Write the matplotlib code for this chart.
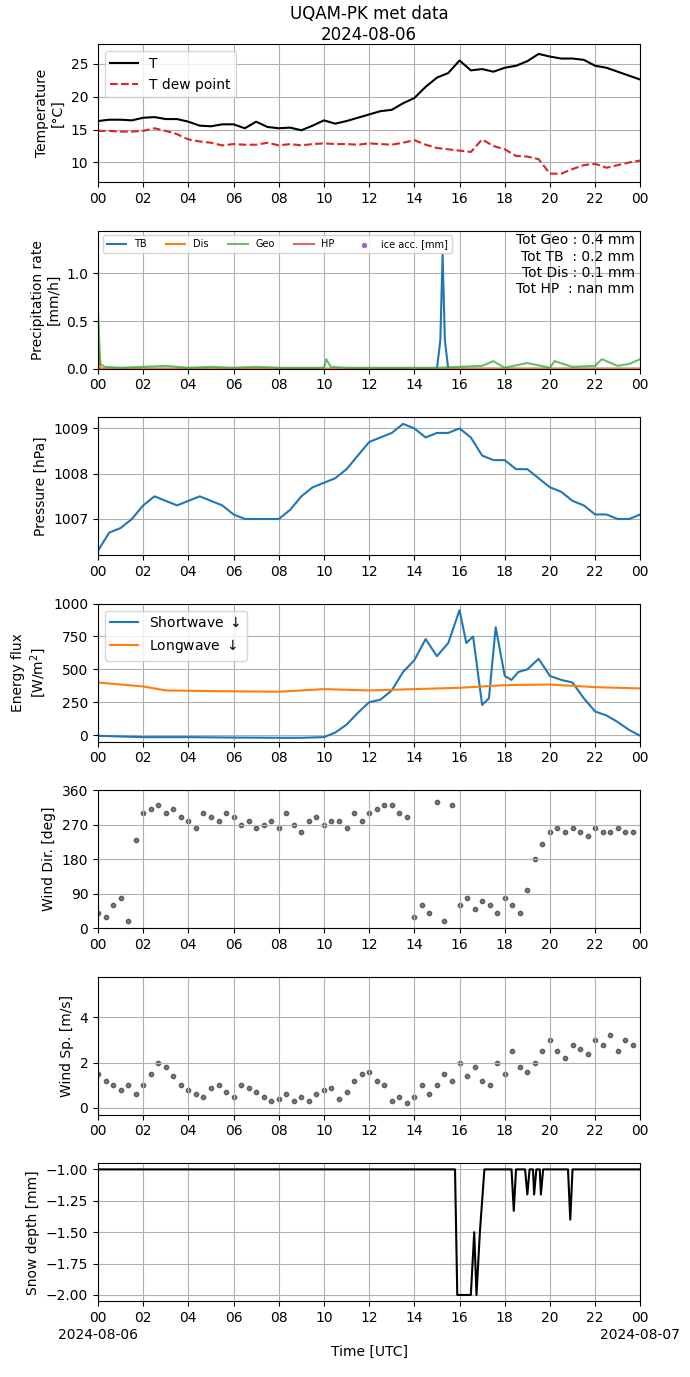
import numpy as np
import matplotlib
matplotlib.use("Agg")
import matplotlib.pyplot as plt

# half-hourly times (hours UTC)
t30 = np.arange(0, 24.01, 0.5)
temp = [16.3,16.5,16.5,16.4,16.8,16.9,16.6,16.6,16.2,15.6,15.5,15.8,15.8,15.2,16.2,15.4,15.2,15.3,14.9,15.6,
        16.4,15.9,16.3,16.8,17.3,17.8,18.0,19.0,19.8,21.5,22.9,23.6,25.5,24.0,24.2,23.8,24.4,24.7,25.4,26.5,
        26.1,25.8,25.8,25.6,24.7,24.4,23.8,23.2,22.6]
dew = [14.8,14.8,14.7,14.7,14.8,15.2,14.8,14.3,13.5,13.2,13.0,12.6,12.8,12.7,12.7,13.0,12.6,12.8,12.6,12.8,
       12.9,12.8,12.8,12.7,12.9,12.8,12.7,13.0,13.4,12.7,12.2,12.0,11.8,11.6,13.5,12.5,12.0,11.0,10.9,10.5,
       8.3,8.3,9.0,9.6,9.8,9.2,9.6,10.0,10.3]
pres = [1006.3,1006.7,1006.8,1007.0,1007.3,1007.5,1007.4,1007.3,1007.4,1007.5,1007.4,1007.3,1007.1,1007.0,1007.0,
        1007.0,1007.0,1007.2,1007.5,1007.7,1007.8,1007.9,1008.1,1008.4,1008.7,1008.8,1008.9,1009.1,1009.0,1008.8,
        1008.9,1008.9,1009.0,1008.8,1008.4,1008.3,1008.3,1008.1,1008.1,1007.9,1007.7,1007.6,1007.4,1007.3,1007.1,
        1007.1,1007.0,1007.0,1007.1]

# precipitation
tb_t = [0, 15.0, 15.15, 15.25, 15.35, 15.5, 24]
tb_v = [0, 0, 0.3, 1.2, 0.3, 0, 0]
geo_t = [0, 0.1, 0.3, 1, 2, 3, 4, 5, 6, 7, 8, 9, 10, 10.1, 10.3, 11, 12, 13, 14, 15, 16, 17, 17.5, 18, 19, 20, 20.2, 21, 22, 22.3, 23, 23.5, 24]
geo_v = [0.6, 0.05, 0.02, 0.01, 0.02, 0.03, 0.01, 0.02, 0.01, 0.02, 0.01, 0.01, 0.01, 0.1, 0.02, 0.01, 0.01, 0.01, 0.01, 0.01, 0.02, 0.03, 0.08, 0.01, 0.06, 0.01, 0.08, 0.02, 0.03, 0.1, 0.03, 0.05, 0.1]
dis_t = [0, 0.1, 24]
dis_v = [0.3, 0.0, 0.0]

# radiation
sw_t = [0, 1, 2, 4, 6, 8, 9, 10, 10.5, 11, 11.5, 12, 12.5, 13, 13.5, 14, 14.5, 15, 15.5, 16, 16.3, 16.6, 17, 17.3, 17.6, 18, 18.3, 18.6, 19, 19.5, 20, 20.5, 21, 21.5, 22, 22.5, 23, 23.5, 24]
sw_v = [-5, -10, -15, -15, -18, -20, -20, -15, 20, 80, 170, 250, 270, 340, 480, 570, 730, 600, 700, 950, 700, 750, 230, 280, 820, 450, 420, 480, 500, 580, 450, 420, 400, 280, 180, 150, 100, 40, -5]
lw_t = [0, 1, 2, 3, 5, 8, 10, 12, 14, 16, 18, 20, 22, 24]
lw_v = [400, 385, 370, 340, 335, 330, 350, 340, 350, 360, 380, 385, 365, 355]

# wind, every 20 min
t20 = np.arange(0, 24, 1 / 3)
wdir = [40, 30, 60, 80, 20, 230, 300, 310, 320, 300, 310, 290, 280, 260, 300, 290, 280, 300,
        290, 270, 280, 260, 270, 280, 260, 300, 270, 250, 280, 290, 270, 280, 280, 260, 300, 280,
        300, 310, 320, 320, 300, 290, 30, 60, 40, 330, 20, 320, 60, 80, 50, 70, 60, 40,
        80, 60, 40, 100, 180, 220, 250, 260, 250, 260, 250, 240, 260, 250, 250, 260, 250, 250]
wspd = [1.5, 1.2, 1.0, 0.8, 1.0, 0.6, 1.0, 1.5, 2.0, 1.8, 1.4, 1.0, 0.8, 0.6, 0.5, 0.9, 1.0, 0.7,
        0.5, 1.0, 0.9, 0.7, 0.5, 0.3, 0.4, 0.6, 0.3, 0.5, 0.3, 0.6, 0.8, 0.9, 0.4, 0.7, 1.2, 1.5,
        1.6, 1.2, 1.0, 0.3, 0.5, 0.2, 0.5, 1.0, 0.6, 1.0, 1.5, 1.2, 2.0, 1.4, 1.8, 1.2, 1.0, 2.0,
        1.5, 2.5, 1.8, 1.6, 2.0, 2.5, 3.0, 2.5, 2.2, 2.8, 2.6, 2.4, 3.0, 2.8, 3.2, 2.5, 3.0, 2.8]

# snow depth
sd_t = [0, 15.8, 15.9, 16.5, 16.65, 16.75, 16.9, 17.1, 18.3, 18.4, 18.5, 18.9, 19.0, 19.1, 19.25, 19.3, 19.4, 19.55, 19.6, 19.7, 20.8, 20.9, 21.0, 24]
sd_v = [-1, -1, -2, -2, -1.5, -2, -1.5, -1, -1, -1.33, -1, -1, -1.2, -1, -1, -1.2, -1, -1, -1.2, -1, -1, -1.4, -1, -1]

fig, axs = plt.subplots(7, 1, figsize=(6.9, 13.77), dpi=100)
fig.subplots_adjust(left=0.142, right=0.928, top=0.968, bottom=0.055, hspace=0.35)

ax = axs[0]
ax.set_title("UQAM-PK met data\n2024-08-06", fontsize=12, pad=3)
ax.plot(t30, temp, color="black", label="T")
ax.plot(t30, dew, color="tab:red", ls="--", label="T dew point")
ax.set_ylabel("Temperature\n[°C]")
ax.set_ylim(7, 28)
ax.set_yticks([10, 15, 20, 25])
ax.legend(loc="upper left")

ax = axs[1]
ax.plot(tb_t, tb_v, color="tab:blue", label="TB")
ax.plot(dis_t, dis_v, color="tab:orange", label="Dis")
ax.plot(geo_t, geo_v, color="tab:green", alpha=0.7, label="Geo")
ax.plot([], [], color="tab:red", alpha=0.7, label="HP")
ax.scatter([], [], s=8, color="tab:purple", label="ice acc. [mm]")
ax.set_ylim(0, 1.45)
ax.set_ylabel("Precipitation rate\n[mm/h]")
ax.legend(loc="upper left", ncol=5, fontsize=7)
ax.text(0.99, 0.98, "Tot Geo : 0.4 mm\nTot TB  : 0.2 mm\nTot Dis : 0.1 mm\nTot HP  : nan mm",
        transform=ax.transAxes, ha="right", va="top", multialignment="right")

ax = axs[2]
ax.plot(t30, pres, color="tab:blue")
ax.set_ylabel("Pressure [hPa]")
ax.set_ylim(1006.2, 1009.25)

ax = axs[3]
ax.plot(sw_t, sw_v, color="tab:blue", label="Shortwave $\\downarrow$")
ax.plot(lw_t, lw_v, color="tab:orange", label="Longwave $\\downarrow$")
ax.set_ylabel("Energy flux\n[W/m$^2$]")
ax.set_ylim(-50, 1000)
ax.set_yticks([0, 250, 500, 750, 1000])
ax.legend(loc="upper left")

ax = axs[4]
ax.scatter(t20, wdir, s=10, color="black", alpha=0.5)
ax.set_ylim(0, 360)
ax.set_yticks([0, 90, 180, 270, 360])
ax.set_ylabel("Wind Dir. [deg]")

ax = axs[5]
ax.scatter(t20, wspd, s=10, color="black", alpha=0.5)
ax.set_ylim(-0.3, 5.8)
ax.set_yticks([0, 2, 4])
ax.set_ylabel("Wind Sp. [m/s]")

ax = axs[6]
ax.plot(sd_t, sd_v, color="black")
ax.set_ylabel("Snow depth [mm]")
ax.set_ylim(-2.05, -0.95)
ax.set_yticks([-2.0, -1.75, -1.5, -1.25, -1.0])
ax.set_xlabel("Time [UTC]", labelpad=14)

ticks = list(range(0, 25, 2))
labels = ["%02d" % (h % 24) for h in ticks]
for a in axs:
    a.set_xlim(0, 24)
    a.set_xticks(ticks)
    a.set_xticklabels(labels)
    a.grid(True)
for xf, lab in [(0, "2024-08-06"), (1, "2024-08-07")]:
    axs[6].annotate(lab, xy=(xf, 0), xycoords="axes fraction", xytext=(0, -19),
                    textcoords="offset points", ha="center", va="top")

fig.savefig("out.png")
